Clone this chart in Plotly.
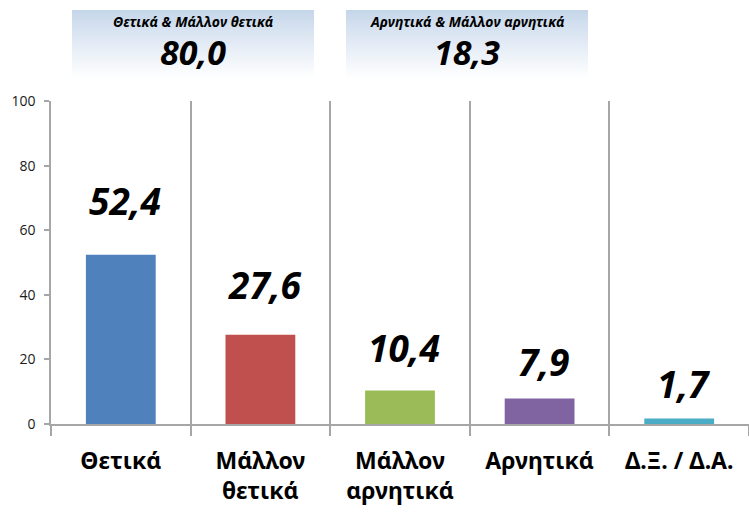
import plotly.graph_objects as go

categories = ["Θετικά", "Μάλλον<br>θετικά", "Μάλλον<br>αρνητικά", "Αρνητικά", "Δ.Ξ. / Δ.Α."]
values = [52.4, 27.6, 10.4, 7.9, 1.7]
value_labels = ["52,4", "27,6", "10,4", "7,9", "1,7"]
summary_titles = ["Θετικά & Μάλλον θετικά", "Αρνητικά & Μάλλον αρνητικά"]
summary_values = ["80,0", "18,3"]
y_ticks = [0, 20, 40, 60, 80, 100]

colors = ["#4F81BD", "#C0504D", "#9BBB59", "#8064A2", "#4BACC6"]
label_shift = [54, 50, 43, 37, 35]

W, H = 749, 514
ML, MR, MT, MB = 51, 0, 101, 90
PW, PH = W - ML - MR, H - MT - MB


def px_x(p):
    return (p - ML) / PW


def px_y(p):
    return (H - MB - p) / PH


fig = go.Figure()
fig.add_trace(go.Bar(
    x=categories, y=values, marker_color=colors, width=0.5,
    marker_line_width=0, showlegend=False, hoverinfo="skip",
))

FONT = "Noto Sans"

for c, v, lab, sh in zip(categories, values, value_labels, label_shift):
    fig.add_annotation(
        x=c, y=v, text=f"<b><i>{lab}</i></b>", showarrow=False,
        yshift=sh, xshift=4, font=dict(family=FONT, size=37, color="black"),
        xanchor="center", yanchor="middle",
    )

# gradient summary boxes
boxes = [(72, 314), (346, 588)]
top_px, bot_px = 10, 80
n = 35
c0 = (197, 214, 234)
c1 = (255, 255, 255)
shapes = []
for (x0, x1), title, val in zip(boxes, summary_titles, summary_values):
    for i in range(n):
        t = i / (n - 1)
        t2 = t ** 0.9
        col = tuple(round(c0[k] + (c1[k] - c0[k]) * t2) for k in range(3))
        y_a = top_px + (bot_px - top_px) * i / n
        y_b = top_px + (bot_px - top_px) * (i + 1) / n + 0.6
        shapes.append(dict(
            type="rect", xref="paper", yref="paper", layer="below",
            x0=px_x(x0), x1=px_x(x1), y0=px_y(y_b), y1=px_y(y_a),
            fillcolor="rgb(%d,%d,%d)" % col, line=dict(width=0),
        ))
    xc = px_x((x0 + x1) / 2)
    fig.add_annotation(
        xref="paper", yref="paper", x=xc, y=px_y(21),
        text=f"<b><i>{title}</i></b>", showarrow=False,
        font=dict(family=FONT, size=14, color="black"),
        xanchor="center", yanchor="middle",
    )
    fig.add_annotation(
        xref="paper", yref="paper", x=xc, y=px_y(52),
        text=f"<b><i>{val}</i></b>", showarrow=False,
        font=dict(family=FONT, size=34, color="black"),
        xanchor="center", yanchor="middle",
    )

GRID = "#a6a6a6"
fig.update_layout(
    width=W, height=H,
    margin=dict(l=ML, r=MR, t=MT, b=MB, pad=0),
    plot_bgcolor="white", paper_bgcolor="white",
    shapes=shapes,
    bargap=0.5,
    xaxis=dict(
        type="category", tickson="boundaries", showgrid=True,
        gridcolor=GRID, gridwidth=1.5,
        showline=True, linecolor=GRID, linewidth=1.5,
        ticks="outside", ticklen=10, tickcolor=GRID, tickwidth=1.5,
        tickfont=dict(family=FONT, size=23, color="black"),
        ticklabelstandoff=16,
    ),
    yaxis=dict(
        range=[0, 100], tickvals=y_ticks, showgrid=False, zeroline=False,
        showline=True, linecolor=GRID, linewidth=1.5,
        ticks="outside", ticklen=5, tickcolor=GRID, tickwidth=1.5,
        tickfont=dict(family="Open Sans", size=14, color="#1a1a1a"),
        ticklabelstandoff=6,
    ),
)
fig.update_xaxes(tickprefix="<b>", ticksuffix="</b>")

fig.write_html(
    "out.html",
    config={"displayModeBar": False},
    post_script="document.body.style.margin='0';document.body.style.overflow='hidden';",
)
